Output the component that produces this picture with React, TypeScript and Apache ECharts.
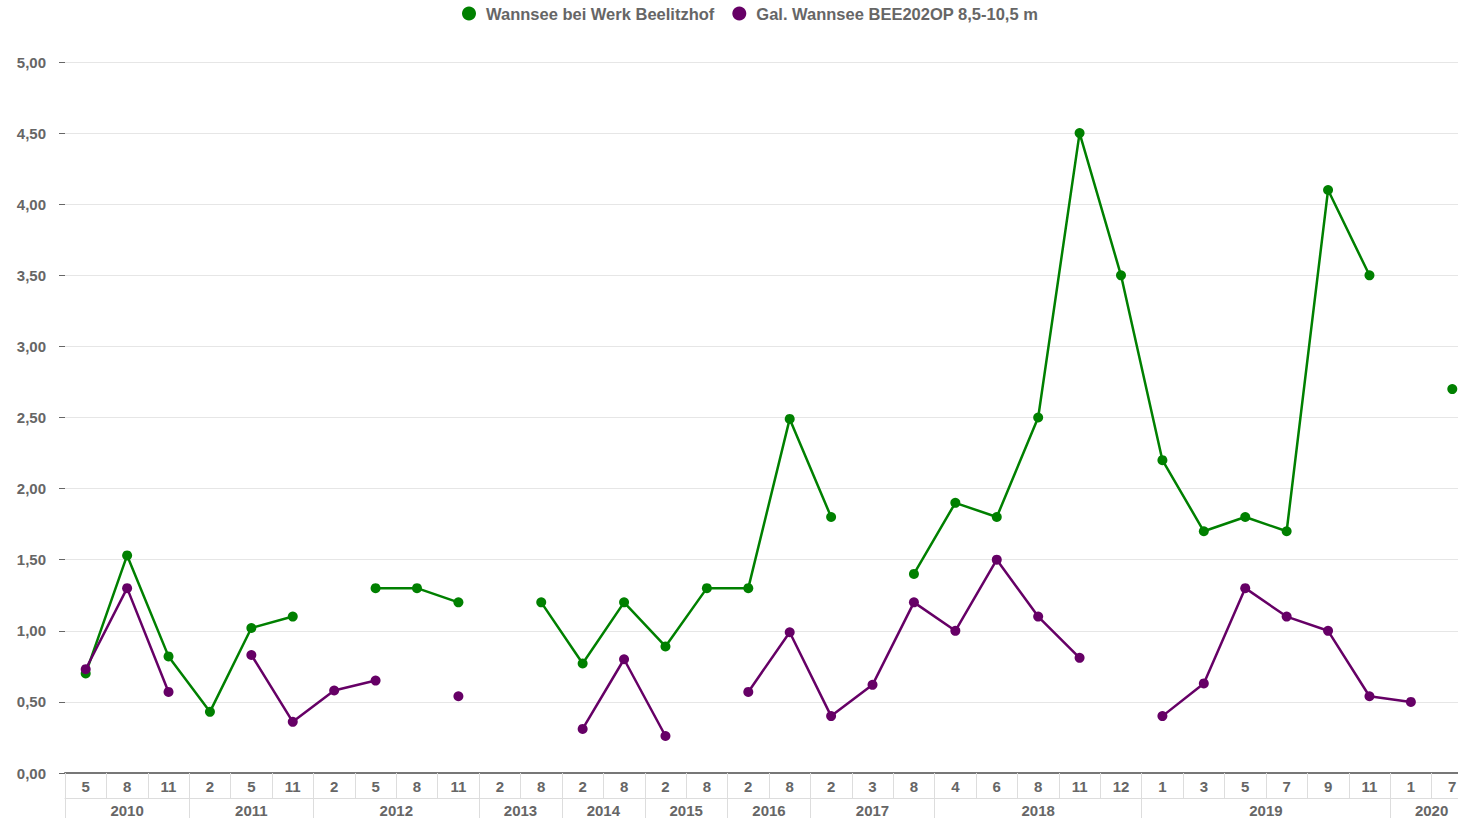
import React, { useEffect, useRef } from "react";
import * as echarts from "echarts";

const months: string[] = [
  "5", "8", "11",
  "2", "5", "11",
  "2", "5", "8", "11",
  "2", "8",
  "2", "8",
  "2", "8",
  "2", "8",
  "2", "3", "8",
  "4", "6", "8", "11", "12",
  "1", "3", "5", "7", "9", "11",
  "1", "7",
];

const years: string[] = ["2010", "2011", "2012", "2013", "2014", "2015", "2016", "2017", "2018", "2019", "2020"];
const yearCounts: number[] = [3, 3, 4, 2, 2, 2, 2, 3, 5, 6, 2];

const wannsee: (number | null)[] = [
  0.70, 1.53, 0.82,
  0.43, 1.02, 1.10,
  null, 1.30, 1.30, 1.20,
  null, 1.20,
  0.77, 1.20,
  0.89, 1.30,
  1.30, 2.49,
  1.80, null, 1.40,
  1.90, 1.80, 2.50, 4.50, 3.50,
  2.20, 1.70, 1.80, 1.70, 4.10, 3.50,
  null, 2.70,
];

const galerie: (number | null)[] = [
  0.73, 1.30, 0.57,
  null, 0.83, 0.36,
  0.58, 0.65, null, 0.54,
  null, null,
  0.31, 0.80,
  0.26, null,
  0.57, 0.99,
  0.40, 0.62, 1.20,
  1.00, 1.50, 1.10, 0.81, null,
  0.40, 0.63, 1.30, 1.10, 1.00, 0.54,
  0.50, null,
];

const seriesNames = ["Wannsee bei Werk Beelitzhof", "Gal. Wannsee BEE202OP 8,5-10,5 m"];
const colors = ["#008000", "#660066"];

export default function App() {
  const ref = useRef<HTMLDivElement>(null);

  useEffect(() => {
    if (!ref.current) return;
    const chart = echarts.init(ref.current, undefined, { renderer: "svg" });

    const bounds: number[] = [0];
    yearCounts.forEach((c) => bounds.push(bounds[bounds.length - 1] + c));
    const mids: number[] = yearCounts.map((c, i) => bounds[i] + c / 2);
    const total = bounds[bounds.length - 1];

    const fontFamily = "Liberation Sans, Arial, sans-serif";
    const gray = "#666666";

    chart.setOption({
      animation: false,
      legend: {
        top: 5,
        left: 462,
        padding: 0,
        itemWidth: 24,
        itemHeight: 14,
        itemGap: 18,
        icon: "circle",
        textStyle: { color: gray, fontWeight: "bold", fontSize: 16.5, fontFamily },
        data: seriesNames,
      },
      grid: { left: 65, right: 7, top: 62, bottom: 45, containLabel: false },
      xAxis: [
        {
          type: "category",
          data: months,
          boundaryGap: true,
          position: "bottom",
          axisLine: { show: true, lineStyle: { color: "#777777", width: 2 } },
          axisTick: { show: true, interval: 0, length: 25, lineStyle: { color: "#dddddd", width: 1 } },
          axisLabel: {
            interval: 0,
            margin: 6,
            color: gray,
            fontWeight: "bold",
            fontSize: 15,
            fontFamily,
          },
          splitLine: { show: false },
        },
        {
          type: "value",
          min: 0,
          max: total,
          position: "bottom",
          offset: 25,
          axisLine: { show: true, onZero: false, lineStyle: { color: "#dddddd", width: 1 } },
          axisTick: { show: true, length: 22, customValues: bounds, lineStyle: { color: "#dddddd", width: 1 } },
          axisLabel: {
            show: true,
            margin: 5,
            customValues: mids,
            formatter: (v: number) => {
              const idx = mids.findIndex((m) => Math.abs(m - v) < 1e-6);
              return idx >= 0 ? years[idx] : "";
            },
            color: gray,
            fontWeight: "bold",
            fontSize: 15,
            fontFamily,
          },
          splitLine: { show: false },
        },
      ],
      yAxis: {
        type: "value",
        min: 0,
        max: 5,
        interval: 0.5,
        offset: 3,
        axisLine: { show: false },
        axisTick: { show: true, length: 6, lineStyle: { color: "#666666", width: 1 } },
        axisLabel: {
          margin: 16,
          color: gray,
          fontWeight: "bold",
          fontSize: 15,
          fontFamily,
          formatter: (v: number) => v.toFixed(2).replace(".", ","),
        },
        splitLine: { show: true, lineStyle: { color: "#e6e6e6", width: 1 } },
      },
      series: [
        {
          name: seriesNames[0],
          type: "line",
          xAxisIndex: 0,
          data: wannsee,
          connectNulls: false,
          symbol: "circle",
          symbolSize: 10,
          showSymbol: true,
          showAllSymbol: true,
          itemStyle: { color: colors[0] },
          lineStyle: { color: colors[0], width: 2.5 },
        },
        {
          name: seriesNames[1],
          type: "line",
          xAxisIndex: 0,
          data: galerie,
          connectNulls: false,
          symbol: "circle",
          symbolSize: 10,
          showSymbol: true,
          showAllSymbol: true,
          itemStyle: { color: colors[1] },
          lineStyle: { color: colors[1], width: 2.5 },
        },
      ],
    });

    return () => chart.dispose();
  }, []);

  return (
    <div style={{ position: "absolute", left: 0, top: 0, width: 1458, height: 818, overflow: "hidden", background: "#fff" }}>
      <div ref={ref} style={{ width: 1480, height: 818 }} />
    </div>
  );
}
